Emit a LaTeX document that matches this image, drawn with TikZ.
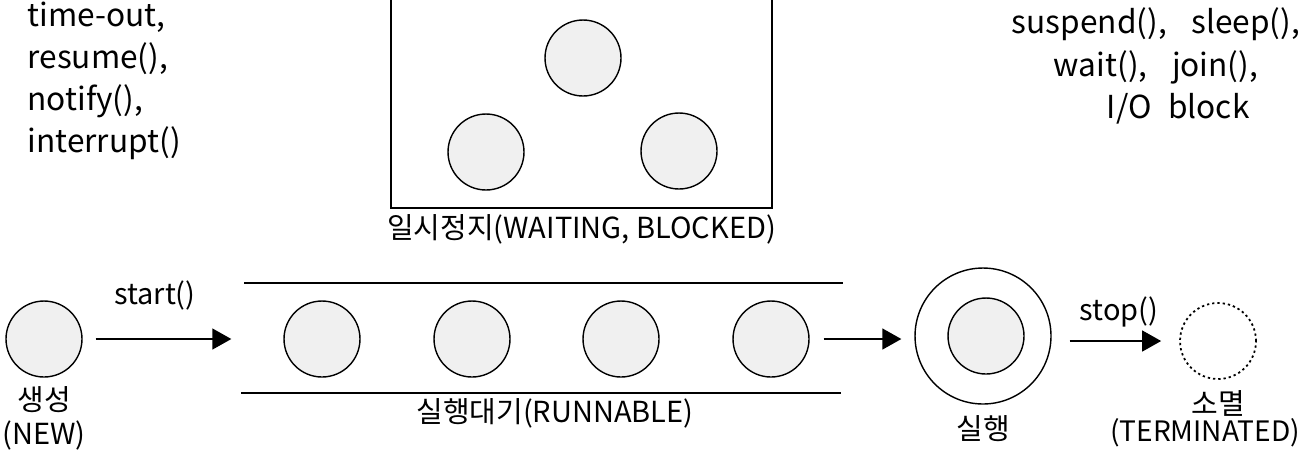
\documentclass[tikz,border=0pt]{standalone}
\usepackage{fontspec}
\setmainfont{Noto Sans CJK KR}
\usetikzlibrary{arrows.meta,positioning}

\begin{document}
\begin{tikzpicture}
    [x=0.02cm, y=-0.02cm,
    thick,
    arr/.style={-{Triangle[length=0.38cm, width=0.42cm]}},
    state/.style={circle, draw, fill=black!6, inner sep=0pt, minimum size=1.52cm},
    tag/.style={font=\fontsize{16.5}{19.5}\selectfont, align=center, inner sep=0pt},
    callnote/.style={font=\fontsize{18}{24}\selectfont, inner sep=0pt}]
    \useasboundingbox (0,0) rectangle (1310,461);

        %% waiting / blocked
    \node[draw, minimum width=7.62cm, minimum height=4.32cm,
        label={[tag, label distance=3pt]below:일시정지(WAITING, BLOCKED)}] (W) at (581.5,100) {};
        \node[state] (W1) at (583,58) {};
        \node[state] (W2) at (486,152) {};
        \node[state] (W3) at (679,151) {};

    \node[callnote, anchor=north west, align=left] (resume) at (27,1)
        {time-out,\\resume(),\\notify(),\\interrupt()};
    \node[callnote, anchor=north, align=center, font=\fontsize{18}{24.2}\selectfont] (block) at (1156,7)
        {suspend(),\hspace{0.55em} sleep(),\\wait(),\hspace{0.55em} join(),\\\hspace*{1.4em}I/O\hspace{0.3em} block};

        %% new
    \node[state, label={[tag, label distance=4.5pt]below:생성\\(NEW)}] (N) at (44,339) {};

        %% runnable queue
    \coordinate (Qa) at (244,283);
    \coordinate (Qb) at (843,283);
    \coordinate (Qc) at (241,393);
    \coordinate (Qd) at (841,393);
    \draw (Qa) -- (Qb);
    \draw (Qc) -- (Qd);
        \node[state] (R1) at (322,339) {};
        \node[state] (R2) at (472,339) {};
        \node[state] (R3) at (621,339) {};
        \node[state] (R4) at (771,339) {};
    \node[tag] (RL) at (555,413) {실행대기(RUNNABLE)};

        %% running
    \node[circle, draw, inner sep=0pt, minimum size=2.72cm,
        label={[tag, label distance=6pt]below:실행}] (X) at (983,336) {};
        \node[state] (X1) at (986,336) {};

        %% terminated
    \node[state, fill=none, line width=1pt, dash pattern=on 1.3pt off 1.7pt,
        label={[tag, label distance=5.5pt]below:소멸}] (T) at (1218,341) {};
    \node[tag, font=\fontsize{16}{19.5}\selectfont] (TL) at (1205,433) {(TERMINATED)};

    \draw[arr, shorten <=0.26cm, shorten >=1.04cm] (N.east) to node[tag, pos=0.36, above=0.56cm] {start()} (R1.west);
    \draw[arr, shorten <=0.28cm, shorten >=0.26cm] (R4.east) to (R4.east -| X.west);
    \draw[arr, shorten <=0.36cm, shorten >=0.36cm] (X.east |- T.west) to node[tag, pos=0.53, above=0.26cm] {stop()} (T.west);
\end{tikzpicture}
\end{document}
